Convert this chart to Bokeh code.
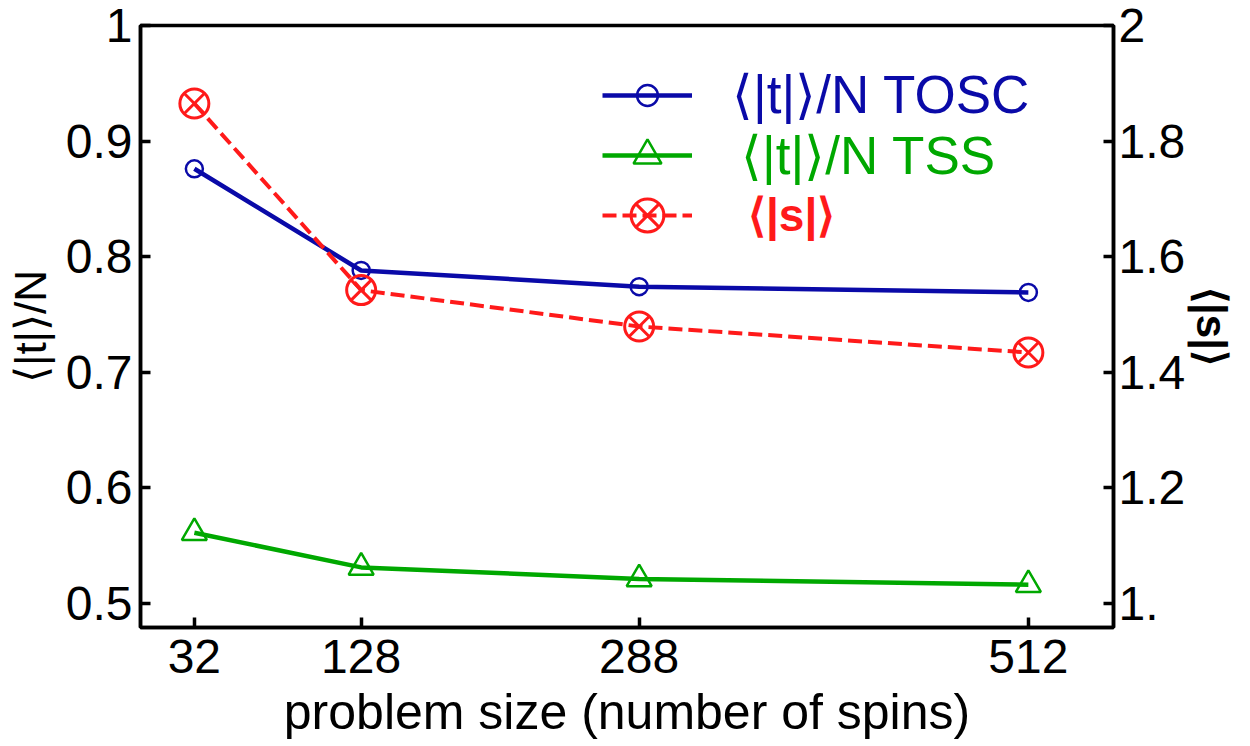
from bokeh.plotting import figure
from bokeh.models import Range1d, LinearAxis, FixedTicker, Legend, LegendItem, Title
from bokeh.embed import file_html
from bokeh.resources import INLINE

# ---- data ----
sizes = [32, 128, 288, 512]
t_tosc = [0.876, 0.788, 0.774, 0.769]
t_tss = [0.561, 0.531, 0.521, 0.516]
s_abs = [1.865, 1.542, 1.479, 1.434]

x_ticks = [32, 128, 288, 512]
left_ticks = [0.5, 0.6, 0.7, 0.8, 0.9, 1.0]
right_ticks = [1.0, 1.2, 1.4, 1.6, 1.8, 2.0]

label_tosc = "⟨|t|⟩/N TOSC"
label_tss = "⟨|t|⟩/N TSS"
label_s = "⟨|s|⟩"
x_title = "problem size (number of spins)"

BLUE = "#0a0aa8"
GREEN = "#00a800"
RED = "#ff1a1a"
FONT = "Liberation Sans"

p = figure(width=1250, height=746, output_backend="svg", toolbar_location=None,
           x_range=Range1d(1, 561), y_range=Range1d(0.479, 1.0),
           min_border_left=140, min_border_right=137, min_border_top=25, min_border_bottom=119)
p.extra_y_ranges = {"s": Range1d(0.958, 2.0)}
p.xgrid.visible = False
p.ygrid.visible = False
p.outline_line_color = "black"
p.outline_line_width = 3.5
p.outline_line_alpha = 1.0

def style_axis(ax):
    ax.axis_line_width = 3.5
    ax.axis_line_color = "black"
    ax.major_tick_in = 10
    ax.major_tick_out = 0
    ax.major_tick_line_width = 3.5
    ax.minor_tick_line_color = None
    ax.major_label_text_font = FONT
    ax.major_label_text_font_size = "48px"
    ax.major_label_text_color = "black"
    ax.axis_label_text_font = FONT
    ax.axis_label_text_font_style = "normal"
    ax.axis_label_text_color = "black"

xa = p.xaxis[0]
style_axis(xa)
xa.ticker = FixedTicker(ticks=x_ticks)
xa.major_label_standoff = 12

ya = p.yaxis[0]
style_axis(ya)
ya.ticker = FixedTicker(ticks=left_ticks)
ya.major_label_overrides = {1.0: "1"}
ya.axis_label = "⟨|t|⟩/N"
ya.axis_label_text_font_size = "44px"
ya.major_label_standoff = 8
ya.axis_label_standoff = 8

ra = LinearAxis(y_range_name="s")
style_axis(ra)
ra.ticker = FixedTicker(ticks=right_ticks)
ra.major_label_overrides = {1.0: "1.", 2.0: "2"}
ra.axis_label = label_s
ra.axis_label_text_font_size = "42px"
ra.axis_label_text_font_style = "bold"
ra.major_label_standoff = 5
ra.axis_label_standoff = 0
p.add_layout(ra, "right")

# x-axis title below the tick labels
p.add_layout(Title(text=x_title, align="center", text_font=FONT, text_font_size="50px",
                   text_font_style="normal", text_color="black", standoff=12), "below")

# ---- series ----
l1 = p.line(sizes, t_tosc, line_color=BLUE, line_width=4.5)
m1 = p.scatter(sizes, t_tosc, marker="circle", size=17, fill_color="white", fill_alpha=0,
               line_color=BLUE, line_width=2.5)

l2 = p.line(sizes, t_tss, line_color=GREEN, line_width=4.5)
m2 = p.scatter(sizes, t_tss, marker="triangle", size=25, fill_color="white", fill_alpha=0,
               line_color=GREEN, line_width=2.5)

l3 = p.line(sizes, s_abs, y_range_name="s", line_color=RED, line_width=4, line_dash="14 6")
m3 = p.scatter(sizes, s_abs, y_range_name="s", marker="circle_x", size=29, fill_color="white",
               fill_alpha=0, line_color=RED, line_width=3)

def make_legend(label, rends, color, gh, loc, standoff, size, bold=False):
    lg = Legend(items=[LegendItem(label=label, renderers=rends)], location=loc,
                orientation="vertical", border_line_color=None, background_fill_alpha=0,
                padding=0, margin=0, spacing=0, glyph_width=90, glyph_height=gh,
                label_height=gh, label_standoff=standoff,
                label_text_font=FONT, label_text_font_size=size, label_text_color=color,
                label_text_font_style="bold" if bold else "normal",
                label_text_baseline="middle")
    p.add_layout(lg, "center")

make_legend(label_tosc, [l1, m1], BLUE, 52, (462, 502), 40, "53px")
make_legend(label_tss, [l2, m2], GREEN, 70, (462, 437), 49, "53px")
make_legend(label_s, [l3, m3], RED, 82, (462, 371), 56, "46px", bold=True)

open("out.html", "w").write(file_html(p, INLINE))
